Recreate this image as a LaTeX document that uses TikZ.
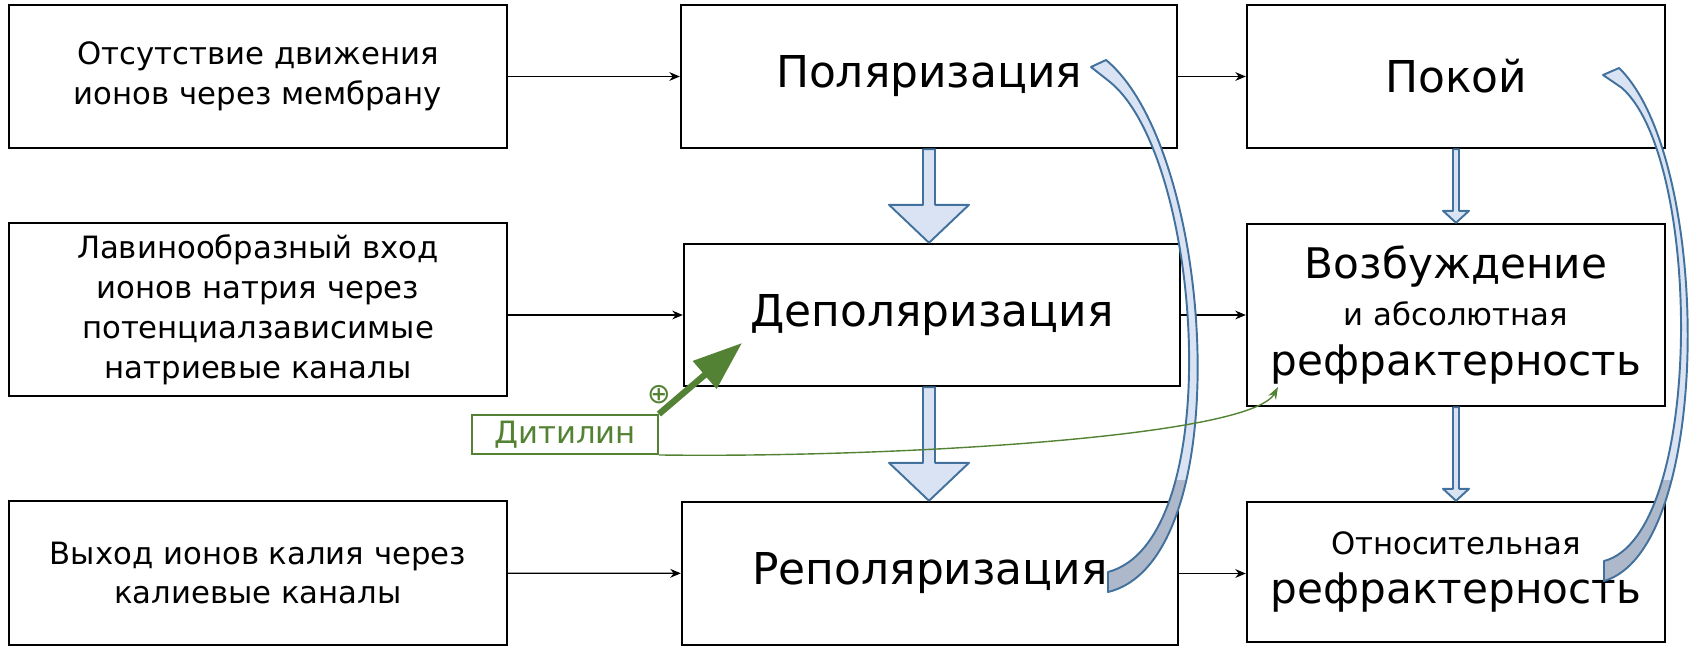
\documentclass[tikz,border=0pt]{standalone}
\usepackage{fontspec}
\setmainfont{DejaVu Sans}
\usetikzlibrary{arrows.meta,calc}

\definecolor{arrfill}{HTML}{DAE3F3}
\definecolor{arrline}{HTML}{41719C}
\definecolor{arrgray}{HTML}{ADB9CA}
\definecolor{ditgreen}{HTML}{548235}

\newcommand\bigfont{\fontsize{25}{28}\selectfont}
\newcommand\rfont{\fontsize{24}{28}\selectfont}
\newcommand\smallfont{\fontsize{17.5}{28}\selectfont}

\tikzset{
  blk/.style={draw,line width=1.4pt,align=center,inner sep=0pt},
  lbox/.style={blk,minimum width=9.96cm,minimum height=2.86cm,font=\fontsize{17.5}{22.7}\selectfont},
  mbox/.style={blk,minimum width=9.92cm,minimum height=2.86cm,font=\bigfont},
  rbox/.style={blk,minimum width=8.36cm,minimum height=2.86cm},
  flow/.style={->,line width=0.7pt},
  fat/.style={draw=arrline,fill=arrfill,line width=1.1pt,line join=round},
}

% широкая стрелка сверху вниз: начало, острие, полуширина, полуширина головки, длина головки
\newcommand\blockarrow[5]{%
  \draw[fat] ($(#1)+(-#3,0)$) -- ($(#2)+(-#3,-#5)$) -- ($(#2)+(-#4,-#5)$) -- (#2)
    -- ($(#2)+(#4,-#5)$) -- ($(#2)+(#3,-#5)$) -- ($(#1)+(#3,0)$) -- cycle;}

\begin{document}
\begin{tikzpicture}[x=0.02cm,y=-0.02cm,>={Stealth[length=6pt,width=5pt]}]
   \useasboundingbox (0,0) rectangle (1690,649);

   % левый столбец
   \node[lbox] (L1) at (258,76.5) {Отсутствие движения\\ионов через мембрану};
   \node[lbox,minimum height=3.46cm] (L2) at (258,309.5) {Лавинообразный вход\\ионов натрия через\\потенциалзависимые\\натриевые каналы};
   \node[lbox,minimum height=2.88cm] (L3) at (258,573) {Выход ионов калия через\\калиевые каналы};

   % средний столбец
   \node[mbox] (M1) at (929,76.5) {Поляризация};
   \node[mbox,minimum height=2.84cm] (M2) at (932,315) {Деполяризация};
   \node[mbox] (M3) at (930,573.5) {Реполяризация};

   % правый столбец
   \node[rbox,font=\bigfont] (R1) at (1456,76.5) {Покой};
   \node[rbox,minimum height=3.64cm] (R2) at (1456,315)
      {\rfont Возбуждение\\[7pt]\smallfont и абсолютная\\[10pt]\rfont рефрактерность};
   \node[rbox,minimum height=2.8cm] (R3) at (1456,572) {\smallfont Относительная\\[9pt]\rfont рефрактерность};

   % тонкие стрелки
   \draw[flow] (L1) -- (M1);
   \draw[flow] (M2.west -| L2.east) -- (M2.west);
   \draw[flow] (L3) -- (M3);
   \draw[flow] (M1) -- (R1);
   \draw[flow] (M2) -- (R2);
   \draw[flow] (M3.east) -- (M3.east -| R3.west);

   % широкие стрелки
   \blockarrow{M1.south}{M2.north -| M1.south}{6}{40}{38}
   \blockarrow{M2.south -| M1.south}{M3.north -| M1.south}{6}{40}{38}
   \blockarrow{R1.south}{R2.north}{3}{13}{12}
   \blockarrow{R2.south}{R3.north}{3}{13}{12}

   % дуговые стрелки
   \path[save path=\curveL] (1091,67) -- (1106,60) .. controls (1215,150) and (1240,560) .. (1108,592)
      -- (1108,572) .. controls (1228,540) and (1203,158) .. (1110,82) -- cycle;
   \path[save path=\curveR] (1603,75) -- (1619,68) .. controls (1712,158) and (1714,549) .. (1604,581)
      -- (1604,561) .. controls (1704,535) and (1703,160) .. (1622,88) -- cycle;
   \fill[arrfill,use path=\curveL];
   \fill[arrfill,use path=\curveR];
   \begin{scope}
      \clip (1000,480) rectangle (1690,649);
      \fill[arrgray,use path=\curveL];
      \fill[arrgray,use path=\curveR];
   \end{scope}
   \draw[arrline,line width=1.1pt,line join=round,use path=\curveL];
   \draw[arrline,line width=1.1pt,line join=round,use path=\curveR];

   % дитилин
   \node[draw=ditgreen,line width=1.1pt,text=ditgreen,minimum width=3.72cm,minimum height=0.78cm,
         inner sep=0pt,font=\fontsize{17.5}{20}\selectfont] (dit) at (565,434.5) {Дитилин};
   \node[text=ditgreen,inner sep=0pt,font=\fontsize{16}{16}\selectfont] (plus) at (659,395) {⊕};
   \coordinate (dtip) at (742,343);
   \coordinate (gtip) at (1278,387);
   \draw[ditgreen,line width=0.8pt,-{Stealth[length=7pt,width=5pt]}] (dit.south east) .. controls (880,458) and (1250,438) .. (gtip);
   \draw[ditgreen,line width=3.6pt,-{Triangle[length=28pt,width=20pt]}] (dit.north east) -- (dtip);

\end{tikzpicture}
\end{document}
